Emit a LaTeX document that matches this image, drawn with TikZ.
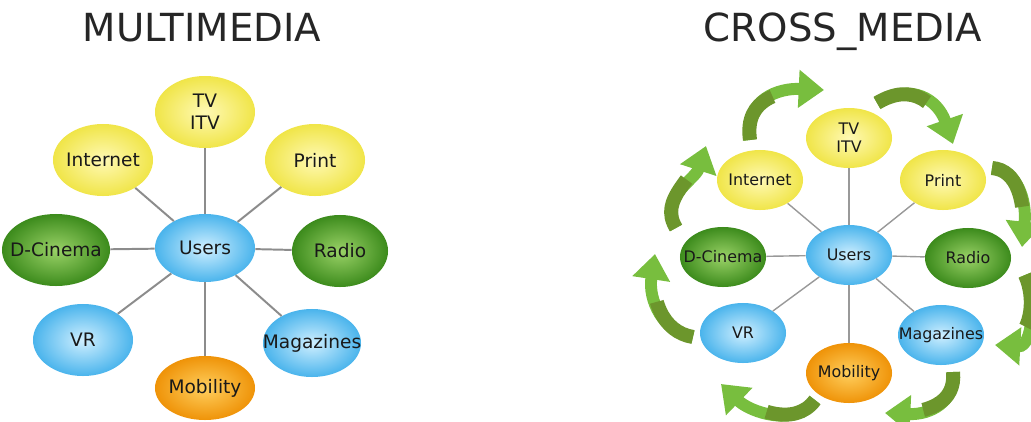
\documentclass[tikz,border=0pt]{standalone}
\usepackage{fontspec}
\setmainfont{DejaVu Sans}
\usepackage{tikz}
\usetikzlibrary{shapes.geometric,arrows.meta}
\definecolor{ylwin}{HTML}{FFF9B4}
\definecolor{ylwout}{HTML}{F0E548}
\definecolor{grnin}{HTML}{9AD267}
\definecolor{grnout}{HTML}{3C8B1C}
\definecolor{bluin}{HTML}{CFEFFF}
\definecolor{bluout}{HTML}{4AB4EC}
\definecolor{orgin}{HTML}{FFCF5E}
\definecolor{orgout}{HTML}{EF9308}
\definecolor{flowlt}{HTML}{78BE3E}
\definecolor{flowdk}{HTML}{6C962C}
\tikzstyle{ttl}=[font=\fontsize{27.5}{32}\selectfont, text=black!85, anchor=base]
\tikzstyle{bub}=[shape=ellipse, inner sep=-12pt, align=center, text=black!90]
\tikzstyle{ylw}=[bub, inner color=ylwin, outer color=ylwout]
\tikzstyle{grn}=[bub, inner color=grnin, outer color=grnout]
\tikzstyle{blu}=[bub, inner color=bluin, outer color=bluout]
\tikzstyle{org}=[bub, inner color=orgin, outer color=orgout]
\tikzstyle{big}=[minimum width=2.5cm, minimum height=1.8cm, font=\fontsize{13.2}{15.5}\selectfont]
\tikzstyle{sml}=[minimum width=2.15cm, minimum height=1.5cm, font=\fontsize{11.3}{13}\selectfont]
\tikzstyle{link}=[draw=black!45, line width=1.4pt]
\tikzstyle{slink}=[draw=black!40, line width=1pt]
\tikzstyle{flow}=[draw=flowlt, line width=8.5pt, -{Triangle[width=26pt,length=18pt]}]
\tikzstyle{flowtail}=[draw=flowdk, line width=10pt, dash pattern=on 38pt off 400pt]
\newcommand{\cycarrow}[4]{%
  \draw[flow] #1 .. controls #2 and #3 .. #4;
  \draw[flowtail] #1 .. controls #2 and #3 .. #4;}

\begin{document}
\begin{tikzpicture}[x=0.025cm, y=-0.025cm]
    \useasboundingbox (0,0) rectangle (1031,421);

    % multimedia
    \node[ttl] (multi) at (202,42) {MULTIMEDIA};
        \node[blu, big, minimum height=1.7cm] (U1) at (205,248) {Users}
        ;
        \node[ylw, big] (TV1) at (205,112) {TV\\ITV}
            edge[link] (U1)
        ;
        \node[ylw, big] (In1) at (103,160) {Internet}
            edge[link] (U1)
        ;
        \node[ylw, big] (Pr1) at (315,160) {Print}
            edge[link] (U1)
        ;
        \node[grn, big, minimum width=2.7cm] (DC1) at (56,250) {D-Cinema}
            edge[link] (U1)
        ;
        \node[grn, big, minimum width=2.4cm] (Ra1) at (340,251) {Radio}
            edge[link] (U1)
        ;
        \node[blu, big] (VR1) at (83,340) {VR}
            edge[link] (U1)
        ;
        \node[blu, big, minimum width=2.45cm, minimum height=1.7cm] (Ma1) at (312,343) {Magazines}
            edge[link] (U1)
        ;
        \node[org, big, minimum height=1.6cm] (Mo1) at (205,388) {Mobility}
            edge[link] (U1)
        ;

    % cross media
    \node[ttl] (cross) at (843,42) {CROSS\_MEDIA};
        \node[blu, sml] (U2) at (849,255) {Users}
        ;
        \node[ylw, sml] (TV2) at (849,138) {TV\\ITV}
            edge[slink] (U2)
        ;
        \node[ylw, sml] (In2) at (760,180) {Internet}
            edge[slink] (U2)
        ;
        \node[ylw, sml] (Pr2) at (943,180) {Print}
            edge[slink] (U2)
        ;
        \node[grn, sml] (DC2) at (723,257) {D-Cinema}
            edge[slink] (U2)
        ;
        \node[grn, sml] (Ra2) at (968,258) {Radio}
            edge[slink] (U2)
        ;
        \node[blu, sml] (VR2) at (743,333) {VR}
            edge[slink] (U2)
        ;
        \node[blu, sml] (Ma2) at (941,335) {Magazines}
            edge[slink] (U2)
        ;
        \node[org, sml] (Mo2) at (849,373) {Mobility}
            edge[slink] (U2)
        ;

    % green cycle
    \cycarrow{(750,140)}{(744,98)}{(780,88)}{(824,90)}
    \cycarrow{(877,103)}{(912,82)}{(938,100)}{(953,144)}
    \cycarrow{(992,168)}{(1017,170)}{(1027,200)}{(1022,247)}
    \cycarrow{(1025,275)}{(1037,300)}{(1032,347)}{(995,345)}
    \cycarrow{(953,372)}{(956,402)}{(930,415)}{(885,413)}
    \cycarrow{(815,400)}{(795,428)}{(750,412)}{(721,384)}
    \cycarrow{(693,337)}{(663,332)}{(648,300)}{(655,254)}
    \cycarrow{(676,228)}{(658,198)}{(695,180)}{(706,146)}
\end{tikzpicture}
\end{document}
